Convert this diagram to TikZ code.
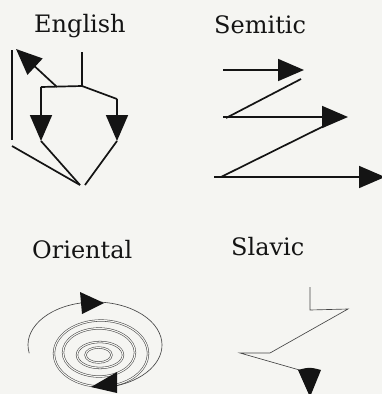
\documentclass[tikz,border=0pt]{standalone}
\usepackage{fontspec}
\setmainfont{DejaVu Serif}
\usetikzlibrary{arrows.meta}
\definecolor{paper}{RGB}{245,245,242}
\definecolor{ink}{RGB}{20,20,20}
\definecolor{pencil}{RGB}{70,70,70}
\tikzset{
  lbl/.style={anchor=base west, font=\fontsize{24}{27}\selectfont, text=ink, inner sep=0pt},
  heavy/.style={draw=ink, line width=1.7pt},
  heavyarr/.style={heavy, -{Triangle[length=26pt, width=22pt]}},
  light/.style={draw=pencil, line width=0.65pt},
  ring/.style={draw=pencil, line width=0.55pt, double=paper, double distance=1.1pt},
  head/.style={fill=ink, draw=none}
}
\begin{document}
\begin{tikzpicture}[x=1pt, y=-1pt]
\fill[paper] (0,0) rectangle (382,394);
\useasboundingbox (0,0) rectangle (382,394);

% ---------- labels ----------
\node[lbl] (lE) at (34,32.5) {English};
\node[lbl] (lS) at (214,33) {Semitic};
\node[lbl] (lO) at (32,258) {Oriental};
\node[lbl] (lV) at (231,255) {Slavic};

% ---------- English ----------
\coordinate (e1) at (12,50);
\coordinate (e2) at (12,140);
\coordinate (ea) at (57,87);
\coordinate (eat) at (16,49);
\coordinate (ev1) at (82,52);
\coordinate (ej) at (82,86);
\coordinate (el) at (41,87);
\coordinate (elt) at (41,141);
\coordinate (er) at (117,99);
\coordinate (ert) at (117,141);
\coordinate (eb1) at (12,146);
\coordinate (ebot) at (80,185);
\coordinate (ebot2) at (85,185);
\draw[heavy, line cap=butt] (e1) -- (e2);
\draw[heavyarr] (ea) -- (eat);
\draw[heavy] (ev1) -- (ej);
\draw[heavy] (el) -- (ej) -- (er);
\draw[heavyarr] (el) -- (elt);
\draw[heavyarr] (er) -- (ert);
\draw[heavy] (eb1) -- (ebot);
\draw[heavy] (elt) -- (ebot);
\draw[heavy] (ebot2) -- (ert);

% ---------- Semitic ----------
\coordinate (s1a) at (223,70);
\coordinate (s1b) at (304,70);
\coordinate (d1a) at (301,79);
\coordinate (d1b) at (226,118);
\coordinate (s2a) at (223,117);
\coordinate (s2b) at (348,117);
\coordinate (d2a) at (328,124);
\coordinate (d2b) at (221,177);
\coordinate (s3a) at (214,177);
\coordinate (s3b) at (385,177);
\draw[heavyarr] (s1a) -- (s1b);
\draw[heavy] (d1a) -- (d1b);
\draw[heavyarr] (s2a) -- (s2b);
\draw[heavy] (d2a) -- (d2b);
\draw[heavyarr] (s3a) -- (s3b);

% ---------- Oriental ----------
\coordinate (r1) at (98.5,355);
\coordinate (r2) at (100,355);
\coordinate (r3) at (99,352.5);
\coordinate (r4) at (101,353.5);
\coordinate (O) at (95,345);
\draw[ring] (r1) ellipse [x radius=13pt, y radius=7.5pt];
\draw[ring] (r2) ellipse [x radius=23pt, y radius=13pt];
\draw[ring] (r3) ellipse [x radius=36pt, y radius=24pt];
\draw[ring] (r4) ellipse [x radius=47pt, y radius=33pt];
\draw[light] ([shift={(191:67pt and 43pt)}]O) arc[start angle=191, end angle=-71, x radius=67pt, y radius=43pt];
\coordinate (ot1) at (80,292);
\coordinate (ot2) at (82,314);
\coordinate (ot3) at (104,303);
\fill[head] (ot1) -- (ot2) -- (ot3) -- cycle;
\coordinate (ob1) at (117,372);
\coordinate (ob2) at (117,393);
\coordinate (ob3) at (91,387);
\fill[head] (ob1) -- (ob2) -- (ob3) -- cycle;

% ---------- Slavic ----------
\coordinate (v1) at (310,287);
\coordinate (v2) at (310,310);
\coordinate (v3) at (348,309);
\coordinate (v4) at (270,353);
\coordinate (v5) at (240,353);
\coordinate (v6) at (303,371);
\draw[light] (v1) -- (v2) -- (v3) -- (v4) -- (v5) -- (v6);
\coordinate (vh1) at (298,370);
\coordinate (vh2) at (321,370);
\coordinate (vh3) at (310,397);
\coordinate (vhc) at (309.5,367);
\fill[head] (vh1) .. controls (vhc) .. (vh2) -- (vh3) -- cycle;
\end{tikzpicture}
\end{document}
